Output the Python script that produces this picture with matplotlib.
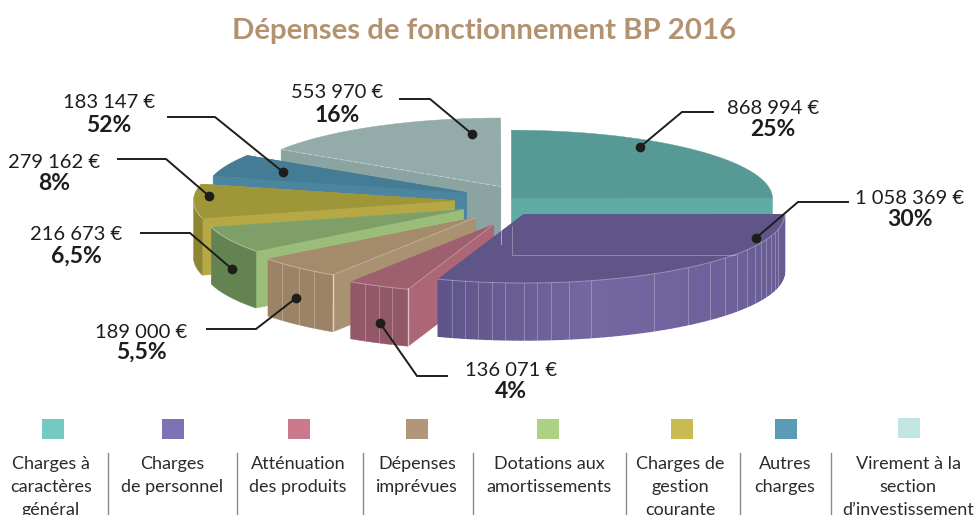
import numpy as np
import matplotlib
matplotlib.use("Agg")
import matplotlib.pyplot as plt
from matplotlib.patches import Polygon, Rectangle

plt.rcParams['font.family'] = ['Lato', 'DejaVu Sans']

# data
categories = ['Charges à\ncaractères\ngénéral', 'Charges\nde personnel', 'Atténuation\ndes produits',
              'Dépenses\nimprévues', 'Dotations aux\namortissements', 'Charges de\ngestion\ncourante',
              'Autres\ncharges', 'Virement à la\nsection\nd’investissement']
values = [868994, 1058369, 136071, 189000, 216673, 279162, 183147, 553970]
amounts = ['868 994 €', '1 058 369 €', '136 071 €', '189 000 €', '216 673 €', '279 162 €', '183 147 €', '553 970 €']
percents = ['25%', '30%', '4%', '5,5%', '6,5%', '8%', '52%', '16%']

# slice look
apex = [(511.5, 198.7), (523.5, 214.5), (493.5, 224.5), (475.5, 217.5), (463.5, 209.5), (454.5, 200.5),
        (466.5, 192.5), (500.5, 186.5)]
top_col = ['#579A95', '#5F5588', '#9E606E', '#A48B6C', '#7F9F68', '#9F9539', '#457C95', '#93ABA9']
cut_col = ['#5FACA5', '#5F5588', '#AC6675', '#A99272', '#9ABE7A', '#B5A845', '#4B859F', '#8BA4A2']
wall_col = ['#5FACA5', '#6A5E98', '#925868', '#9C8366', '#648352', '#8F8633', '#4B859F', '#8BA4A2']
legend_col = ['#74CAC0', '#7F71B5', '#CB7A8E', '#B1977A', '#ADD286', '#C9BA52', '#5A9BB5', '#C0E5E2']
legend_x = [42, 162, 288, 406, 537, 671, 775, 898]
legend_txt_x = [51, 172, 298, 417, 549, 680, 785, 908]
sep_x = [108, 236.5, 363, 473, 626, 740, 831]
stripes = {1: [196, 193, 190, 187, 184, 180, 177, 174, 170, 165, 150, 141, 134.5, 129.6, 125, 121, 117.7,
               114.5, 111.5, 108.5, 105.5, 102.5],
           2: [209.4, 206, 203],
           3: [227.7, 222.7, 218.3]}

# label centre, value y, percent y, leader line
label_pos = [(773, 108, 129), (910, 199, 220), (511, 370, 391), (141, 332, 352),
             (76, 234, 256), (54, 162, 183), (109, 103, 125), (337, 93, 115)]
leaders = [[(713, 112), (682, 112), (640, 147)], [(848, 202), (798, 202), (756, 238)],
           [(447, 376), (417, 376), (380, 323)], [(207, 329), (256, 329), (296, 298)],
           [(141, 233), (190, 233), (232, 269)], [(118, 159), (166, 159), (209, 196)],
           [(168, 117), (215, 117), (283, 172)], [(400, 99), (430, 99), (472, 134)]]

RX, RY, H = 261, 68.5, 57

fig = plt.figure(figsize=(9.78, 5.15), dpi=100)
ax = fig.add_axes([0, 0, 1, 1])
ax.set_xlim(0, 978)
ax.set_ylim(515, 0)
ax.axis('off')


def pt(c, th):
    # th in degrees, clockwise from the top
    t = np.radians(th)
    return c[0] + RX * np.sin(t), c[1] - RY * np.cos(t)


def cut_face(c, th, col):
    x, y = pt(c, th)
    ax.add_patch(Polygon([(x, y), c, (c[0], c[1] + H), (x, y + H)], fc=col, ec=col, lw=0.3))


edges = np.cumsum([0] + values) / sum(values) * 360

for i in [7, 0, 6, 5, 4, 3, 2, 1]:
    c = apex[i]
    a, b = edges[i], edges[i + 1]
    cut_face(c, b, cut_col[i])
    cut_face(c, a, cut_col[i])

    # outer wall, only the front half shows
    lo, hi = max(a, 90), min(b, 270)
    if hi > lo:
        th = np.linspace(lo, hi, 60)
        xs, ys = pt(c, th)
        if i == 1:
            # the purple wall is lighter in the middle
            c0 = np.array(matplotlib.colors.to_rgb('#655A92'))
            c1 = np.array(matplotlib.colors.to_rgb('#7567A2'))
            c2 = np.array(matplotlib.colors.to_rgb('#5E5489'))
            for k in range(len(th) - 1):
                m = (th[k] + th[k + 1]) / 2
                if m < 165:
                    col = c0 + (c1 - c0) * (m - 90) / 75
                else:
                    col = c1 + (c2 - c1) * (m - 165) / 34
                ax.add_patch(Polygon([(xs[k], ys[k]), (xs[k + 1], ys[k + 1]), (xs[k + 1], ys[k + 1] + H),
                                      (xs[k], ys[k] + H)], fc=col, ec=col, lw=1.0))
        else:
            ax.add_patch(Polygon(list(zip(xs, ys)) + list(zip(xs[::-1], ys[::-1] + H)),
                                 fc=wall_col[i], ec=wall_col[i], lw=0.3))
        for s in stripes.get(i, []):
            x, y = pt(c, s)
            ax.plot([x, x], [y, y + H], color='white', lw=0.6, alpha=0.3)
        # corner line between wall and cut face
        if i in (2, 3):
            x, y = pt(c, a)
            ax.plot([x, x], [y, y + H], color='white', lw=1, alpha=0.6)

    # top surface
    th = np.linspace(a, b, 80)
    xs, ys = pt(c, th)
    ax.add_patch(Polygon([c] + list(zip(xs, ys)), fc=top_col[i], ec=top_col[i], lw=0.3))
    if hi > lo:
        th = np.linspace(lo, hi, 60)
        xs, ys = pt(c, th)
        ax.plot(xs, ys, color='white', lw=0.7, alpha=0.35)

    if i == 7:
        # pale dashed edge on the grey slice
        x, y = pt(c, a)
        ax.plot([x, c[0]], [y, c[1]], color='white', lw=0.6, alpha=0.45, ls=(0, (6, 2)))
        ax.plot([c[0], c[0]], [c[1] - RY, c[1] + H], color='white', lw=0.7, alpha=0.5)
    if i in (2, 3):
        x, y = pt(c, a)
        ax.plot([x, c[0]], [y, c[1]], color='white', lw=0.6, alpha=0.35)

# bottom of the teal slice shows through the purple one
ax.plot([511.5, 511.5, 735], [226, 255, 255], color='white', lw=0.7, alpha=0.3)

# leader lines and dots
for line in leaders:
    xs, ys = zip(*line)
    ax.plot(xs, ys, color='#1D1D1B', lw=1.4, solid_joinstyle='miter')
    ax.plot(xs[-1], ys[-1], 'o', color='#1D1D1B', ms=7, mew=0)

# value labels
for (x, y1, y2), amount, pc in zip(label_pos, amounts, percents):
    ax.text(x, y1, amount, ha='center', va='center', fontsize=14.5, color='#1D1D1B')
    ax.text(x, y2, pc, ha='center', va='center', fontsize=16.5, color='#1D1D1B', fontweight='bold')

ax.text(484, 31, 'Dépenses de fonctionnement BP 2016', ha='center', va='center',
        fontsize=21.2, color='#B3936F', fontweight='bold')

# legend
for x, col, tx, name in zip(legend_x, legend_col, legend_txt_x, categories):
    y = 418 if col == '#C0E5E2' else 419
    ax.add_patch(Rectangle((x, y), 22, 20, fc=col, ec='none'))
    ax.text(tx, 456, name, ha='center', va='top', fontsize=13, color='#2B2B2A', linespacing=1.55,
            clip_on=True)
for x in sep_x:
    ax.plot([x, x], [453, 515], color='#8A8A8A', lw=1)

plt.savefig('out.png', dpi=100)
